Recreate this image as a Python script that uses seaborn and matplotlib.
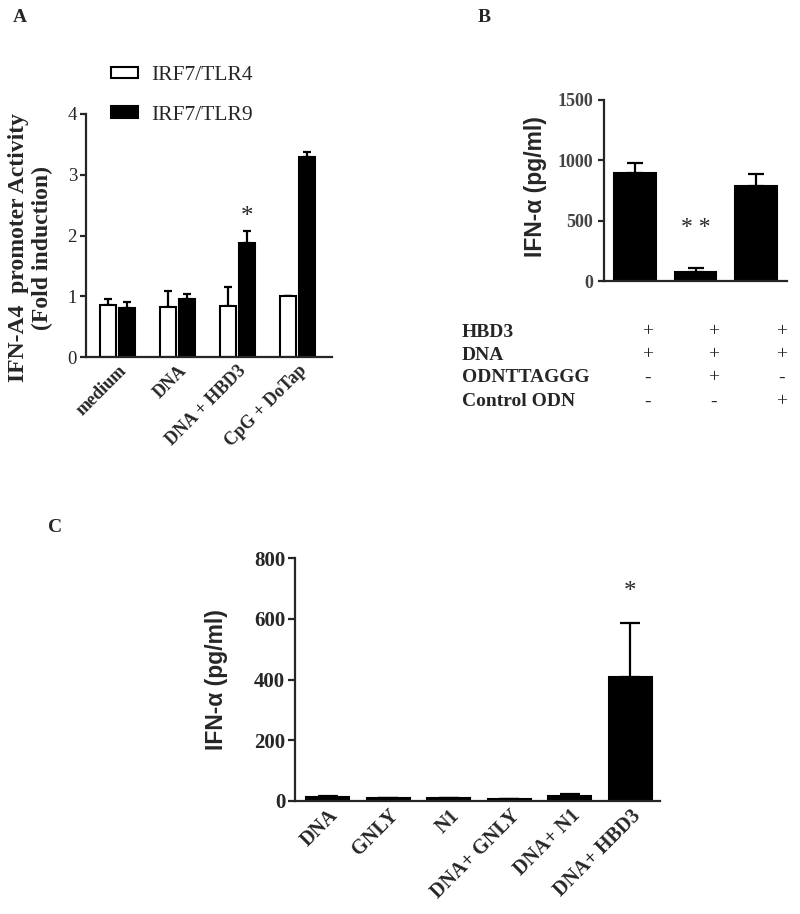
"""Recreation of a three-panel IFN bar chart figure."""

import matplotlib

matplotlib.use("Agg")
import matplotlib.pyplot as plt
import numpy as np
import pandas as pd
import seaborn as sns

# ---- data ----
a_groups = ["medium", "DNA", "DNA + HBD3", "CpG + DoTap"]
a_series = ["IRF7/TLR4", "IRF7/TLR9"]
a_tlr4 = [0.86, 0.83, 0.84, 1.0]
a_tlr4_err = [0.10, 0.26, 0.32, 0.0]
a_tlr9 = [0.81, 0.96, 1.88, 3.30]
a_tlr9_err = [0.10, 0.07, 0.19, 0.07]

b_conditions = ["c1", "c2", "c3"]
b_values = [895, 72, 785]
b_err = [80, 33, 99]
b_rows = ["HBD3", "DNA", "ODNTTAGGG", "Control ODN"]
b_signs = [["+", "+", "+"], ["+", "+", "+"], ["-", "+", "-"], ["-", "-", "+"]]

c_groups = ["DNA", "GNLY", "N1", "DNA+ GNLY", "DNA+ N1", "DNA+ HBD3"]
c_values = [14, 9, 9, 6, 17, 408]
c_err = [4, 2, 2, 2, 5, 177]

SERIF = "Liberation Serif"
SANS = "Liberation Sans"

sns.set_style("ticks")
plt.rcParams["font.family"] = [SERIF, "DejaVu Serif"]
plt.rcParams["axes.linewidth"] = 1.6
plt.rcParams["xtick.major.width"] = 1.6
plt.rcParams["ytick.major.width"] = 1.6
plt.rcParams["ytick.major.size"] = 4.5
plt.rcParams["xtick.major.size"] = 0

fig = plt.figure(figsize=(8, 9.14), dpi=100)
W, H = 800, 914


def axes_px(left, top, right, bottom):
    return fig.add_axes([left / W, 1 - bottom / H, (right - left) / W, (bottom - top) / H])


def add_err(ax, bars, errs, capsize):
    xs = [b.get_x() + b.get_width() / 2 for b in bars]
    ys = [b.get_height() for b in bars]
    ax.errorbar(xs, ys, yerr=[np.zeros(len(errs)), errs], fmt="none",
                ecolor="black", elinewidth=1.6, capsize=capsize, capthick=1.6, zorder=1)


# ---- panel A ----
axA = axes_px(86, 114, 332, 357)
dfA = pd.DataFrame({
    "group": a_groups * 2,
    "series": [a_series[0]] * 4 + [a_series[1]] * 4,
    "value": a_tlr4 + a_tlr9,
})
sns.barplot(data=dfA, x="group", y="value", hue="series", ax=axA,
            palette=["white", "black"], edgecolor="black", linewidth=1.5,
            width=0.63, gap=0.15, errorbar=None, legend=True, zorder=2)
add_err(axA, axA.containers[0], a_tlr4_err, 3)
add_err(axA, axA.containers[1], a_tlr9_err, 3)
axA.set_ylim(0, 4)
axA.set_xlim(-0.53, 3.57)
axA.set_yticks([0, 1, 2, 3, 4])
axA.tick_params(axis="y", labelsize=13.5, pad=2)
axA.set_xticklabels(a_groups, rotation=45, ha="right", rotation_mode="anchor",
                    fontsize=13, fontweight="bold")
axA.set_xlabel("")
axA.set_ylabel("IFN-A4  promoter Activity\n(Fold induction)", fontsize=17,
               fontweight="bold", linespacing=1.15)
axA.yaxis.set_label_coords(-0.135, 0.45)
handles, labels = axA.get_legend_handles_labels()
axA.legend_.remove()
fig.legend(handles, labels, loc="upper left", bbox_to_anchor=(92 / W, 1 - 47 / H),
           frameon=False, fontsize=15.5, handlelength=1.25, handleheight=0.45,
           labelspacing=0.95, handletextpad=0.6)
sns.despine(ax=axA)
hb = axA.containers[1][2]
axA.text(hb.get_x() + hb.get_width() / 2, 2.3, "*", ha="center", va="center", fontsize=18)

# ---- panel B ----
axB = axes_px(604, 100, 787, 281)
dfB = pd.DataFrame({"cond": b_conditions, "value": b_values})
sns.barplot(data=dfB, x="cond", y="value", ax=axB, color="black", edgecolor="black",
            linewidth=1.5, width=0.68, errorbar=None, zorder=2)
add_err(axB, axB.containers[0], b_err, 6)
axB.set_ylim(0, 1500)
axB.set_xlim(-0.51, 2.51)
axB.set_yticks([0, 500, 1000, 1500])
axB.set_xticks([])
axB.set_xlabel("")
for t in axB.get_yticklabels():
    t.set_fontweight("bold")
    t.set_color("#444444")
    t.set_fontsize(13)
axB.set_ylabel("IFN-α (pg/ml)", fontsize=16.5, fontweight="bold", family=SANS)
axB.yaxis.set_label_coords(-0.31, 0.52)
sns.despine(ax=axB)
axB.text(1, 447, "* *", ha="center", va="center", fontsize=17)

row_y = [332, 355, 378, 402]
col_x = [648, 714, 782]
for label, y, signs in zip(b_rows, row_y, b_signs):
    fig.text(462 / W, 1 - y / H, label, ha="left", va="center", fontsize=14,
             fontweight="bold")
    for x, s in zip(col_x, signs):
        fig.text(x / W, 1 - y / H, s, ha="center", va="center", fontsize=14)

# ---- panel C ----
axC = axes_px(295, 558, 660, 801)
dfC = pd.DataFrame({"group": c_groups, "value": c_values})
sns.barplot(data=dfC, x="group", y="value", ax=axC, color="black", edgecolor="black",
            linewidth=1.5, width=0.71, errorbar=None, zorder=2)
add_err(axC, axC.containers[0], c_err, 7)
axC.set_ylim(0, 800)
axC.set_xlim(-0.545, 5.49)
axC.set_yticks([0, 200, 400, 600, 800])
axC.tick_params(axis="y", labelsize=15, pad=2, length=5)
for t in axC.get_yticklabels():
    t.set_fontweight("bold")
axC.set_xticklabels(c_groups, rotation=45, ha="right", rotation_mode="anchor",
                    fontsize=14.5, fontweight="bold")
axC.set_xlabel("")
axC.set_ylabel("IFN-α (pg/ml)", fontsize=16.5, fontweight="bold", family=SANS)
axC.yaxis.set_label_coords(-0.184, 0.5)
sns.despine(ax=axC)
axC.text(5, 688, "*", ha="center", va="center", fontsize=18)

# ---- panel letters ----
fig.text(20 / W, 1 - 18 / H, "A", ha="center", va="center", fontsize=14, fontweight="bold")
fig.text(484 / W, 1 - 17 / H, "B", ha="center", va="center", fontsize=14, fontweight="bold")
fig.text(55 / W, 1 - 527 / H, "C", ha="center", va="center", fontsize=14, fontweight="bold")

fig.savefig("out.png", dpi=100, facecolor="white")
